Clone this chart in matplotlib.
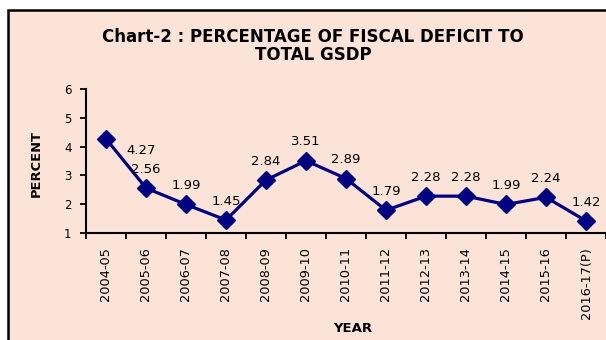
import matplotlib
matplotlib.use("Agg")
import matplotlib.pyplot as plt
from matplotlib.patches import Rectangle

years = ["2004-05", "2005-06", "2006-07", "2007-08", "2008-09", "2009-10", "2010-11",
         "2011-12", "2012-13", "2013-14", "2014-15", "2015-16", "2016-17(P)"]
values = [4.27, 2.56, 1.99, 1.45, 2.84, 3.51, 2.89, 1.79, 2.28, 2.28, 1.99, 2.24, 1.42]
yticks = [1, 2, 3, 4, 5, 6]

W, H = 606, 340
fig = plt.figure(figsize=(W / 100, H / 100), dpi=100)
fig.patch.set_facecolor("white")
bg = "#FBE4D7"
fig.add_artist(Rectangle((8 / W, -0.1), 1.3, 1 - 9.5 / H + 0.1, transform=fig.transFigure,
                         facecolor=bg, edgecolor="black", linewidth=1.8, zorder=0))

ax = fig.add_axes([86 / W, 1 - 233 / H, 520 / W, 144 / H])
ax.set_facecolor("none")
x = list(range(len(years)))
ax.plot(x, values, color="#000080", lw=2.3, marker="D", markersize=9,
        markerfacecolor="#000080", markeredgecolor="#000080", clip_on=False, zorder=3)

for i, v in enumerate(values):
    if i == 0:
        ax.annotate(f"{v:.2f}", (i, v), xytext=(25, -8.5), textcoords="offset points",
                    ha="center", va="center", fontsize=9.5)
    else:
        ax.annotate(f"{v:.2f}", (i, v), xytext=(0, 13.5), textcoords="offset points",
                    ha="center", va="center", fontsize=9.5)

ax.set_xlim(-0.5, len(years) - 0.5)
ax.set_ylim(1, 6)
ax.set_yticks(yticks)
ax.set_yticklabels([str(t) for t in yticks], fontsize=8.5)
ax.tick_params(axis="y", length=4.5, width=1.3, direction="out", pad=6)

ax.set_xticks([i - 0.5 for i in range(len(years) + 1)])
ax.set_xticklabels([])
ax.tick_params(axis="x", which="major", length=4, width=1.3, direction="out")
ax.set_xticks(x, minor=True)
ax.set_xticklabels(years, minor=True, rotation=90, fontsize=9.3)
ax.tick_params(axis="x", which="minor", length=0, pad=10)

for s in ["top", "right"]:
    ax.spines[s].set_visible(False)
for s in ["left", "bottom"]:
    ax.spines[s].set_linewidth(1.5)
    ax.spines[s].set_color("black")

fig.text(313 / W, 1 - 36.5 / H, "Chart-2 : PERCENTAGE OF FISCAL DEFICIT TO",
         ha="center", va="center", fontsize=12, fontweight="bold")
fig.text(313 / W, 1 - 54.5 / H, "TOTAL GSDP",
         ha="center", va="center", fontsize=12, fontweight="bold")
fig.text(36.5 / W, 1 - 163.5 / H, "PERCENT", rotation=90, ha="center", va="center",
         fontsize=9.4, fontweight="bold")
fig.text(353 / W, 1 - 329 / H, "YEAR", ha="center", va="center",
         fontsize=9.5, fontweight="bold")

fig.savefig("out.png", dpi=100, facecolor="white")
